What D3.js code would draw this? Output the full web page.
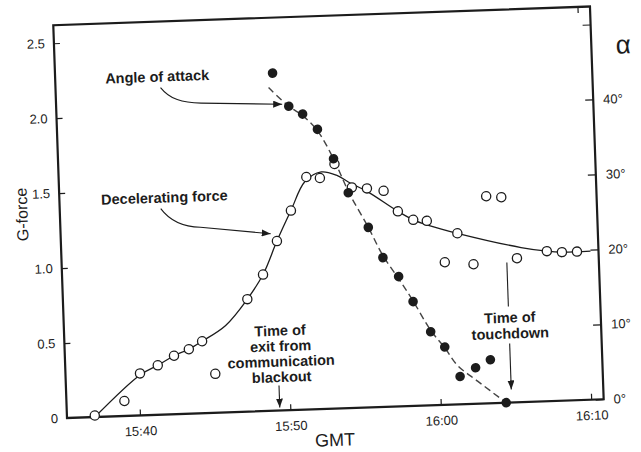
<!DOCTYPE html>
<html>
<head>
<meta charset="utf-8">
<script src="https://cdn.jsdelivr.net/npm/d3@7"></script>
<style>
  body { margin: 0; background: #fff; }
  svg { font-family: "Liberation Sans", Arial, Helvetica, sans-serif; }
</style>
</head>
<body>
<div id="chart"></div>
<script>
// time is minutes after 15:00 GMT
var decelTime = [37.0, 39.0, 40.1, 41.3, 42.4, 43.4, 44.3, 45.1, 47.4, 48.5, 49.5, 50.5, 51.6, 52.5, 53.5, 54.6, 55.6, 56.7, 57.6, 58.6, 59.5, 60.6, 61.5, 62.5, 63.5, 64.5, 65.4, 67.4, 68.4, 69.4];
var decelG = [0.01, 0.10, 0.28, 0.33, 0.39, 0.43, 0.48, 0.26, 0.75, 0.91, 1.13, 1.33, 1.55, 1.54, 1.63, 1.47, 1.46, 1.44, 1.30, 1.24, 1.23, 0.95, 1.14, 0.93, 1.38, 1.37, 0.96, 1.00, 0.99, 0.99];

// hand-drawn fit through the G-force points
var fitTime = [37.0, 40.1, 41.3, 42.4, 43.4, 44.3, 45.9, 47.4, 48.5, 49.5, 50.5, 51.5, 52.6, 53.6, 54.5, 55.6, 57.6, 58.6, 59.6, 61.5, 65.7, 67.4, 68.4, 70.3];
var fitG = [0.0, 0.27, 0.33, 0.39, 0.43, 0.48, 0.58, 0.75, 0.91, 1.13, 1.33, 1.52, 1.58, 1.555, 1.50, 1.44, 1.30, 1.24, 1.20, 1.14, 1.03, 1.00, 0.99, 0.99];

// angle of attack, degrees
var alphaTime = [49.6, 50.6, 51.5, 52.45, 53.45, 54.35, 55.6, 56.5, 57.5, 58.4, 59.5, 60.4, 61.35, 62.4, 63.4, 64.35];
var alphaDeg = [45.0, 40.5, 39.4, 37.3, 33.3, 28.7, 24.0, 19.9, 17.3, 13.9, 9.8, 7.7, 3.7, 4.8, 5.8, 0];

// dashed fit for the angle of attack
var alphaFitTime = [49.3, 50.6, 51.5, 52.45, 53.45, 54.4, 55.6, 56.5, 57.5, 58.4, 59.5, 60.4, 61.2, 62.5, 64.35];
var alphaFitDeg = [43.1, 40.5, 39.2, 37.1, 33.3, 28.7, 24.0, 20.2, 17.0, 14.0, 10.0, 7.6, 5.2, 3.0, 0];

var gTicks = [0, 0.5, 1.0, 1.5, 2.0, 2.5];
var gTickLabels = ["0", "0.5", "1.0", "1.5", "2.0", "2.5"];
var timeTicks = [40, 50, 60, 70];
var timeTickLabels = ["15:40", "15:50", "16:00", "16:10"];
var alphaTicks = [0, 10, 20, 30, 40, 50];
var alphaTickLabels = ["0°", "10°", "20°", "30°", "40°", ""];

var W = 641, H = 452;
var pw = 537, ph = 393;
var ink = "#1c1c1c";

var svg = d3.select("#chart").append("svg")
  .attr("width", W).attr("height", H);
svg.append("rect").attr("width", W).attr("height", H).attr("fill", "#fff");

// the scan is slightly tilted, so the whole figure sits in a rotated group
var g = svg.append("g")
  .attr("transform", "translate(67,418) rotate(-2) translate(0," + (-ph) + ")");

var x = d3.scaleLinear().domain([35.15, 35.15 + pw / 15.05]).range([0, pw]);
var yG = d3.scaleLinear().domain([0, ph / 150]).range([ph, 0]);
var yA = d3.scaleLinear().domain([0, ph / 7.5]).range([ph, 0]);

var defs = svg.append("defs");
defs.append("marker")
  .attr("id", "arr")
  .attr("markerUnits", "userSpaceOnUse")
  .attr("markerWidth", 9).attr("markerHeight", 7)
  .attr("refX", 9).attr("refY", 3.5)
  .attr("orient", "auto")
  .append("path").attr("d", "M0,0 L9,3.5 L0,7 z").attr("fill", ink);

// axes, ticks pointing inward
function styleAxis(sel) {
  sel.select(".domain").remove();
  sel.selectAll("line").attr("stroke", ink).attr("stroke-width", 1.2);
  sel.selectAll("text").attr("fill", ink).style("font-size", "13px");
}

g.append("g")
  .call(d3.axisLeft(yG).tickValues(gTicks).tickSize(-6).tickPadding(9)
    .tickFormat(function(d, i) { return gTickLabels[i]; }))
  .call(styleAxis);

g.append("g").attr("transform", "translate(0," + ph + ")")
  .call(d3.axisBottom(x).tickValues(timeTicks).tickSize(-6).tickPadding(11)
    .tickFormat(function(d, i) { return timeTickLabels[i]; }))
  .call(styleAxis);

g.append("g").attr("transform", "translate(0,0)")
  .call(d3.axisTop(x).tickValues([70]).tickSize(-6).tickFormat(""))
  .call(styleAxis);

g.append("g").attr("transform", "translate(" + pw + ",0)")
  .call(d3.axisRight(yA).tickValues(alphaTicks).tickSize(-8).tickPadding(10)
    .tickFormat(function(d, i) { return alphaTickLabels[i]; }))
  .call(styleAxis);

g.append("rect")
  .attr("width", pw).attr("height", ph)
  .attr("fill", "none").attr("stroke", ink).attr("stroke-width", 2.2);

// axis titles
g.append("text")
  .attr("transform", "translate(-38," + (ph - 205) + ") rotate(-90)")
  .attr("text-anchor", "middle").attr("dy", "0.35em")
  .attr("fill", ink).style("font-size", "16px")
  .text("G-force");

g.append("text")
  .attr("x", 267).attr("y", ph + 31).attr("dy", "0.35em")
  .attr("text-anchor", "middle")
  .attr("fill", ink).style("font-size", "18px")
  .text("GMT");

g.append("text")
  .attr("x", pw + 32).attr("y", 39).attr("dy", "0.35em")
  .attr("text-anchor", "middle")
  .attr("fill", ink).style("font-size", "26px")
  .text("α");

// lines
var fitLine = d3.line()
  .x(function(d) { return x(d[0]); })
  .y(function(d) { return yG(d[1]); })
  .curve(d3.curveCatmullRom.alpha(0.5));

g.append("path")
  .datum(d3.zip(fitTime, fitG))
  .attr("d", fitLine)
  .attr("fill", "none").attr("stroke", ink).attr("stroke-width", 1.3);

var alphaLine = d3.line()
  .x(function(d) { return x(d[0]); })
  .y(function(d) { return yA(d[1]); })
  .curve(d3.curveCatmullRom.alpha(0.5));

g.append("path")
  .datum(d3.zip(alphaFitTime, alphaFitDeg))
  .attr("d", alphaLine)
  .attr("fill", "none").attr("stroke", "#444").attr("stroke-width", 1.4)
  .attr("stroke-dasharray", "7,4");

// points
g.append("g").selectAll("circle")
  .data(d3.zip(decelTime, decelG))
  .join("circle")
  .attr("cx", function(d) { return x(d[0]); })
  .attr("cy", function(d) { return yG(d[1]); })
  .attr("r", 4.6)
  .attr("fill", "#fff").attr("stroke", ink).attr("stroke-width", 1.3);

g.append("g").selectAll("circle")
  .data(d3.zip(alphaTime, alphaDeg))
  .join("circle")
  .attr("cx", function(d) { return x(d[0]); })
  .attr("cy", function(d) { return yA(d[1]); })
  .attr("r", 4.8)
  .attr("fill", ink);

// annotations
function label(lines, cx, cy, step) {
  var t = g.append("text")
    .attr("text-anchor", "middle")
    .attr("fill", ink)
    .style("font-size", "14.5px").style("font-weight", "bold");
  lines.forEach(function(s, i) {
    t.append("tspan").attr("x", cx).attr("y", cy + i * step).attr("dy", "0.35em").text(s);
  });
}
function arrow(d) {
  g.append("path").attr("d", d)
    .attr("fill", "none").attr("stroke", ink).attr("stroke-width", 1.1)
    .attr("marker-end", "url(#arr)");
}

label(["Angle of attack"], 102, 55, 0);
arrow("M105,66 C114,78 126,82 145,83 L226,87");

label(["Decelerating force"], 105, 176, 0);
arrow("M101,187 C110,200 122,206 140,207 L210,216");

label(["Time of", "exit from", "communication", "blackout"], 216, 313, 15.5);
arrow("M213,368 L213,390");

label(["Time of", "touchdown"], 446, 308, 16);
g.append("path").attr("d", "M445,253 L445,297")
  .attr("stroke", ink).attr("stroke-width", 1.1);
arrow("M445,334 L445,380");
</script>
</body>
</html>
